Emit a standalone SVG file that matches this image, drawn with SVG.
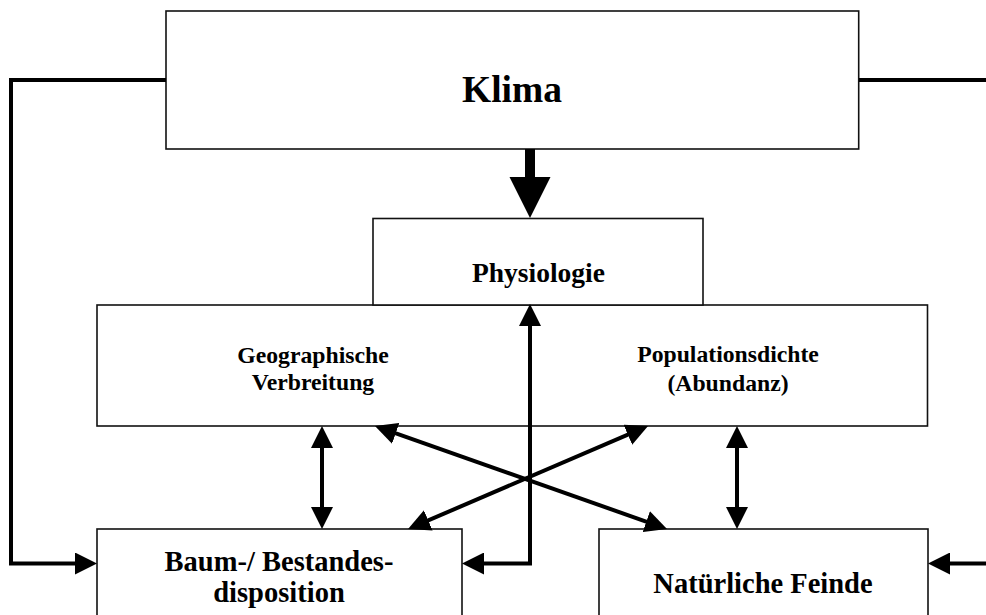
<svg xmlns="http://www.w3.org/2000/svg" width="986" height="615" viewBox="0 0 986 615">
  <style>
    .box { fill: #fff; stroke: #111; stroke-width: 1.6; }
    .lbl { font-family: "Liberation Serif", "Times New Roman", serif; font-weight: bold; fill: #000; text-anchor: middle; }
    .con { fill: none; stroke: #000; stroke-width: 4; stroke-linejoin: miter; }
  </style>
  <defs>
    <marker id="ah" markerUnits="userSpaceOnUse" markerWidth="22" markerHeight="22" refX="14" refY="11" orient="auto-start-reverse">
      <path d="M0,0 L22,11 L0,22 Z" fill="#000"/>
    </marker>
  </defs>

  <g id="klima">
    <rect class="box" x="166" y="11" width="692.7" height="138"/>
    <text class="lbl" x="512" y="101.5" font-size="37.5">Klima</text>
  </g>

  <g id="verbreitung-abundanz">
    <rect class="box" x="97" y="305" width="830.5" height="121"/>
    <text class="lbl" x="313" y="362.5" font-size="23.7">Geographische</text>
    <text class="lbl" x="313" y="390" font-size="23.7">Verbreitung</text>
    <text class="lbl" x="728" y="361.5" font-size="23.7">Populationsdichte</text>
    <text class="lbl" x="728" y="391" font-size="23.7">(Abundanz)</text>
  </g>

  <g id="physiologie">
    <rect class="box" x="373" y="218.5" width="330" height="86.5"/>
    <text class="lbl" x="538.5" y="281.5" font-size="27.5">Physiologie</text>
  </g>

  <g id="baum">
    <rect class="box" x="97" y="529" width="365" height="100"/>
    <text class="lbl" x="279" y="570.5" font-size="28.5">Baum-/ Bestandes-</text>
    <text class="lbl" x="279" y="601.5" font-size="28.5">disposition</text>
  </g>

  <g id="feinde">
    <rect class="box" x="599" y="529" width="329" height="100"/>
    <text class="lbl" x="763" y="592.5" font-size="28.5">Natürliche Feinde</text>
  </g>

  <g id="connectors">
    <!-- heavy arrow Klima -> Physiologie -->
    <path d="M525,149 H535 V177 H550.5 L530,218 L509.5,177 H525 Z" fill="#000"/>
    <!-- Klima feedback loops -->
    <polyline class="con" points="166,80 11,80 11,563.5 89,563.5" marker-end="url(#ah)"/>
    <polyline class="con" points="859,80 995,80 995,563.5 936,563.5" marker-end="url(#ah)"/>
    <!-- Baum <-> Physiologie -->
    <polyline class="con" points="530,312 530,563.5 470,563.5" marker-start="url(#ah)" marker-end="url(#ah)"/>
    <!-- vertical exchanges -->
    <line class="con" x1="322" y1="434" x2="322" y2="521" marker-start="url(#ah)" marker-end="url(#ah)"/>
    <line class="con" x1="737" y1="434" x2="737" y2="521" marker-start="url(#ah)" marker-end="url(#ah)"/>
    <!-- crossing diagonals -->
    <line class="con" x1="382.5" y1="428.7" x2="659.5" y2="526.3" marker-start="url(#ah)" marker-end="url(#ah)"/>
    <line class="con" x1="640.7" y1="429.2" x2="415.4" y2="525.9" marker-start="url(#ah)" marker-end="url(#ah)"/>
  </g>
</svg>
